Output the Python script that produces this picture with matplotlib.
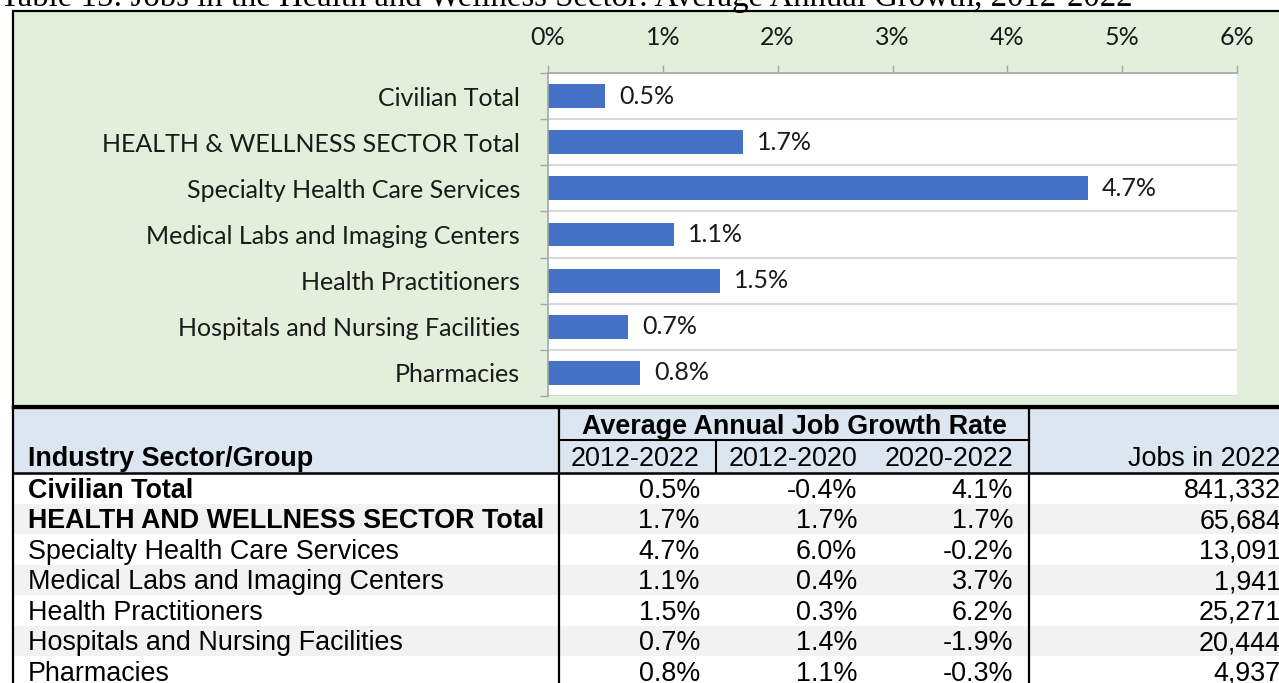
import matplotlib
matplotlib.use("Agg")
import matplotlib.pyplot as plt
from matplotlib.patches import Rectangle
import numpy as np

### data ###
title = "Table 15: Jobs in the Health and Wellness Sector: Average Annual Growth, 2012-2022"
chart_labels = ["Civilian Total", "HEALTH & WELLNESS SECTOR Total",
                "Specialty Health Care Services", "Medical Labs and Imaging Centers",
                "Health Practitioners", "Hospitals and Nursing Facilities", "Pharmacies"]
table_labels = ["Civilian Total", "HEALTH AND WELLNESS SECTOR Total",
                "Specialty Health Care Services", "Medical Labs and Imaging Centers",
                "Health Practitioners", "Hospitals and Nursing Facilities", "Pharmacies"]
bold_rows = [True, True, False, False, False, False, False]
growth_2012_2022 = [0.5, 1.7, 4.7, 1.1, 1.5, 0.7, 0.8]
growth_2012_2020 = [-0.4, 1.7, 6.0, 0.4, 0.3, 1.4, 1.1]
growth_2020_2022 = [4.1, 1.7, -0.2, 3.7, 6.2, -1.9, -0.3]
jobs_2022 = [841332, 65684, 13091, 1941, 25271, 20444, 4937]
x_ticks = [0, 1, 2, 3, 4, 5, 6]
period_labels = ["2012-2022", "2012-2020", "2020-2022"]

W, H = 1279, 683
chart_font = "Lato"
chart_fs = 18
table_font = "Liberation Sans"
fs = 19.4

fig = plt.figure(figsize=(W / 100, H / 100), dpi=100)

# full-figure axes in pixel units for the frame and the table
bg = fig.add_axes([0, 0, 1, 1], zorder=0)
bg.set_xlim(0, W)
bg.set_ylim(H, 0)
bg.axis("off")

# title (top is cut off in the original)
bg.text(0, 6, title, family="Liberation Serif", fontsize=23.6, va="baseline", ha="left")

# green chart frame
bg.add_patch(Rectangle((13, 11), W + 20, 395, facecolor="#E2EFDA",
                       edgecolor="black", lw=1.6))

### bar chart ###
px = lambda x0, y0, x1, y1: [x0 / W, 1 - y1 / H, (x1 - x0) / W, (y1 - y0) / H]
ax = fig.add_axes(px(548, 73, 1237, 396), zorder=1)
ax.set_facecolor("white")
ypos = np.arange(len(chart_labels))
bars = ax.barh(ypos, growth_2012_2022, height=0.52, color="#4472C4")
ax.bar_label(bars, labels=[f"{v:.1f}%" for v in growth_2012_2022], padding=10,
             family=chart_font, fontsize=chart_fs, color="#1a1a1a")
ax.set_xlim(0, 6)
ax.set_ylim(len(chart_labels) - 0.5, -0.5)
ax.xaxis.tick_top()
ax.set_xticks(x_ticks)
ax.set_xticklabels([f"{t}%" for t in x_ticks], family=chart_font, fontsize=chart_fs, color="#1a1a1a")
ax.tick_params(axis="x", length=6, color="#A6A6A6", width=1, pad=11)
ax.set_yticks(ypos)
ax.set_yticklabels(chart_labels, family=chart_font, fontsize=chart_fs, color="#1a1a1a")
ax.tick_params(axis="y", which="major", length=0, pad=20)
ax.set_yticks(np.arange(-0.5, len(chart_labels)), minor=True)
ax.tick_params(axis="y", which="minor", length=6, color="#A6A6A6", width=1)
ax.grid(axis="y", which="minor", color="#D9D9D9", lw=1.5)
ax.set_axisbelow(True)
for s in ["right", "bottom"]:
    ax.spines[s].set_visible(False)
for s in ["top", "left"]:
    ax.spines[s].set_color("#A6A6A6")
    ax.spines[s].set_linewidth(1.2)

### table ###
hdr_top, hdr_bot = 407, 473
row_h = 30.5
bg.add_patch(Rectangle((13, hdr_top), W, hdr_bot - hdr_top, facecolor="#DCE6F1", lw=0))
for i in range(len(table_labels)):
    top = hdr_bot + i * row_h
    if i % 2 == 1:
        bg.add_patch(Rectangle((13, top), W, row_h, facecolor="#F2F2F2", lw=0))

# lines
bg.plot([13, W], [hdr_top, hdr_top], color="black", lw=2.4)
bg.plot([13, W], [hdr_bot, hdr_bot], color="black", lw=1.8)
bg.plot([559, 1029], [440, 440], color="black", lw=1.5)
for xv in [13, 559, 1029]:
    bg.plot([xv, xv], [hdr_top, H], color="black", lw=1.6)
bg.plot([716, 716], [440, hdr_bot], color="black", lw=1.5)

# header text
dy = 2.5
bg.text(794, 424 + dy, "Average Annual Job Growth Rate", family=table_font, fontsize=fs,
        weight="bold", ha="center", va="center")
bg.text(28, 457 + dy, "Industry Sector/Group", family=table_font, fontsize=fs,
        weight="bold", ha="left", va="center")
col_right = [700, 857, 1013]
for xr, lab in zip(col_right, period_labels):
    bg.text(xr, 457 + dy, lab, family=table_font, fontsize=fs, ha="right", va="center")
bg.text(1281, 457 + dy, "Jobs in 2022", family=table_font, fontsize=fs, ha="right", va="center")

# body
for i, lab in enumerate(table_labels):
    yc = hdr_bot + (i + 0.5) * row_h + dy
    bg.text(28, yc, lab, family=table_font, fontsize=fs,
            weight="bold" if bold_rows[i] else "normal", ha="left", va="center")
    vals = [growth_2012_2022[i], growth_2012_2020[i], growth_2020_2022[i]]
    for xr, v in zip(col_right, vals):
        bg.text(xr, yc, f"{v:.1f}%", family=table_font, fontsize=fs, ha="right", va="center")
    bg.text(1281, yc, f"{jobs_2022[i]:,}", family=table_font, fontsize=fs, ha="right", va="center")

fig.savefig("out.png", dpi=100)
